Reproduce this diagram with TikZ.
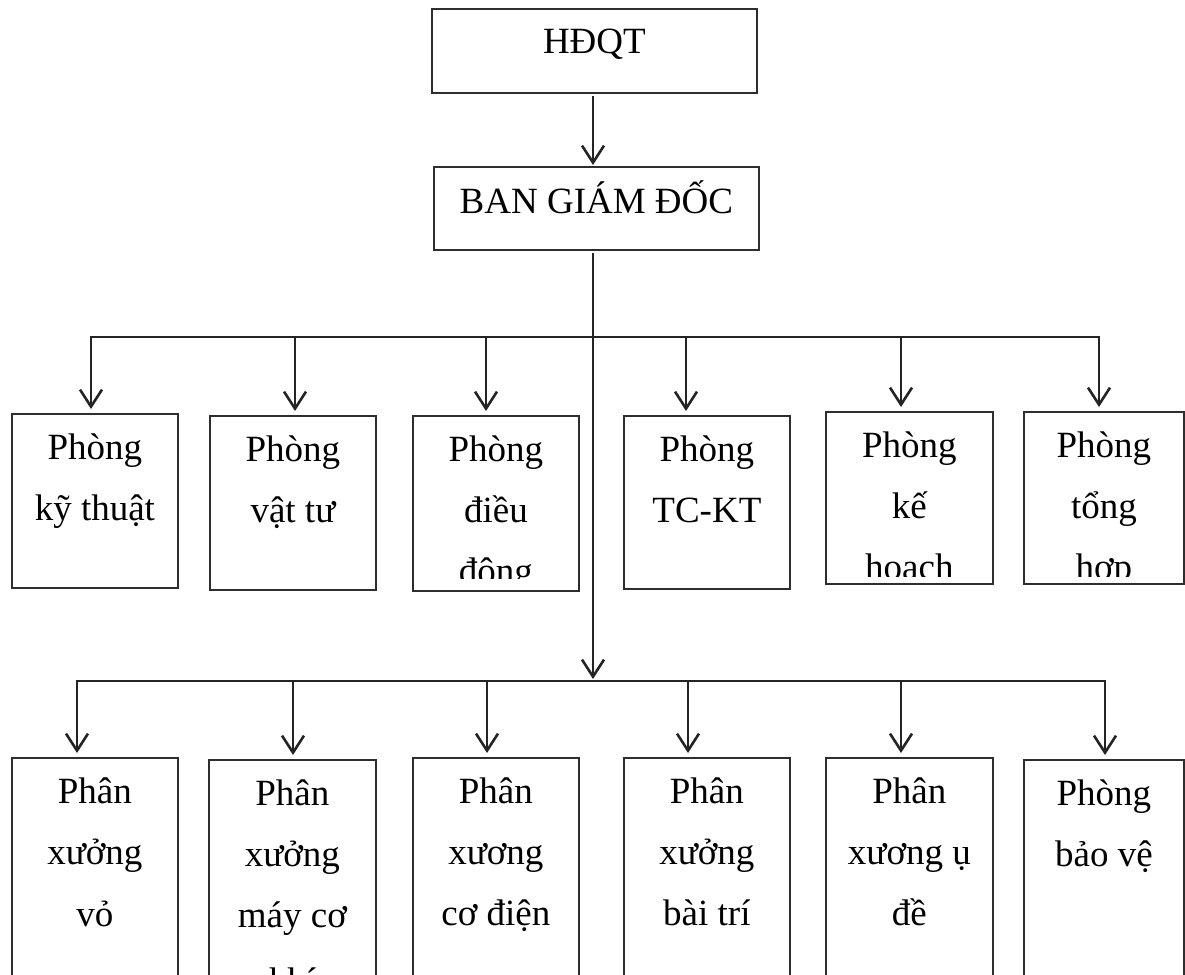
\documentclass[tikz,border=0pt]{standalone}
\usepackage{fontspec}
\setmainfont{Liberation Serif}
\usetikzlibrary{arrows.meta,calc}
\begin{document}
\begin{tikzpicture}[x=1pt,y=-1pt,
  box/.style={draw=black!82, line width=1.8pt, inner sep=0pt, anchor=north west, fill=none},
  txt/.style={font=\fontsize{37}{44}\selectfont, anchor=base, inner sep=0pt, text=black},
  conn/.style={draw=black!86, line width=2.6pt, line cap=rect},
  arr/.style={conn, -{Straight Barb[length=17pt,width=22pt]}, shorten >=4pt}
]
\useasboundingbox (0,0) rectangle (1185,974);
\clip (0,0) rectangle (1185,974);

% top boxes
\node[box, minimum width=325pt, minimum height=84pt] (hd) at (431,8) {};
\node[txt] (hdt) at ($(hd.north)+(0,46)$) {HĐQT};
\node[box, minimum width=325pt, minimum height=83pt] (ban) at (433,166) {};
\node[txt] (bant) at ($(ban.north)+(0,47)$) {BAN GIÁM ĐỐC};

% row 1 boxes
\node[box, minimum width=166pt, minimum height=174pt] (a1) at (11,413) {};
\node[box, minimum width=166pt, minimum height=174pt] (a2) at (209,415) {};
\node[box, minimum width=166pt, minimum height=175pt] (a3) at (412,415) {};
\node[box, minimum width=166pt, minimum height=173pt] (a4) at (623,415) {};
\node[box, minimum width=167pt, minimum height=172pt] (a5) at (825,411) {};
\node[box, minimum width=160pt, minimum height=172pt] (a6) at (1023,411) {};

\node[txt] (a1l1) at ($(a1.north)+(0,46)$) {Phòng};
\node[txt] (a1l2) at ($(a1.north)+(0,107)$) {kỹ thuật};
\node[txt] (a2l1) at ($(a2.north)+(0,46)$) {Phòng};
\node[txt] (a2l2) at ($(a2.north)+(0,107)$) {vật tư};
\begin{scope}
\clip (a3.north west) rectangle ($(a3.south east)+(0,-13)$);
\node[txt] (a3l1) at ($(a3.north)+(0,46)$) {Phòng};
\node[txt] (a3l2) at ($(a3.north)+(0,107)$) {điều};
\node[txt] (a3l3) at ($(a3.north)+(0,168)$) {động};
\end{scope}
\node[txt] (a4l1) at ($(a4.north)+(0,46)$) {Phòng};
\node[txt] (a4l2) at ($(a4.north)+(0,107)$) {TC-KT};
\begin{scope}
\clip (a5.north west) rectangle ($(a5.south east)+(0,-8)$);
\node[txt] (a5l1) at ($(a5.north)+(0,46)$) {Phòng};
\node[txt] (a5l2) at ($(a5.north)+(0,107)$) {kế};
\node[txt] (a5l3) at ($(a5.north)+(0,168)$) {hoạch};
\end{scope}
\begin{scope}
\clip (a6.north west) rectangle ($(a6.south east)+(0,-8)$);
\node[txt] (a6l1) at ($(a6.north)+(0,46)$) {Phòng};
\node[txt] (a6l2) at ($(a6.north)+(0,107)$) {tổng};
\node[txt] (a6l3) at ($(a6.north)+(0,168)$) {hợp};
\end{scope}

% row 2 boxes
\node[box, minimum width=166pt, minimum height=260pt] (b1) at (11,757) {};
\node[box, minimum width=167pt, minimum height=260pt] (b2) at (208,759) {};
\node[box, minimum width=166pt, minimum height=260pt] (b3) at (412,757) {};
\node[box, minimum width=166pt, minimum height=260pt] (b4) at (623,757) {};
\node[box, minimum width=167pt, minimum height=260pt] (b5) at (825,757) {};
\node[box, minimum width=160pt, minimum height=260pt] (b6) at (1023,759) {};

\node[txt] (b1l1) at ($(b1.north)+(0,46)$) {Phân};
\node[txt] (b1l2) at ($(b1.north)+(0,107)$) {xưởng};
\node[txt] (b1l3) at ($(b1.north)+(0,169)$) {vỏ};
\node[txt] (b2l1) at ($(b2.north)+(0,46)$) {Phân};
\node[txt] (b2l2) at ($(b2.north)+(0,107)$) {xưởng};
\node[txt] (b2l3) at ($(b2.north)+(0,168)$) {máy cơ};
\node[txt] (b2l4) at ($(b2.north)+(0,234)$) {khí};
\node[txt] (b3l1) at ($(b3.north)+(0,46)$) {Phân};
\node[txt] (b3l2) at ($(b3.north)+(0,107)$) {xương};
\node[txt] (b3l3) at ($(b3.north)+(0,168)$) {cơ điện};
\node[txt] (b4l1) at ($(b4.north)+(0,46)$) {Phân};
\node[txt] (b4l2) at ($(b4.north)+(0,107)$) {xưởng};
\node[txt] (b4l3) at ($(b4.north)+(0,168)$) {bài trí};
\node[txt] (b5l1) at ($(b5.north)+(0,46)$) {Phân};
\node[txt] (b5l2) at ($(b5.north)+(0,107)$) {xương ụ};
\node[txt] (b5l3) at ($(b5.north)+(0,168)$) {đề};
\node[txt] (b6l1) at ($(b6.north)+(0,46)$) {Phòng};
\node[txt] (b6l2) at ($(b6.north)+(0,107)$) {bảo vệ};

% connectors
\coordinate (m0) at (593,337);
\coordinate (m1) at (593,681);
\draw[arr, shorten <=3pt, shorten >=1pt] (hd.south -| m0) -- (ban.north -| m0);
\draw[arr, shorten <=3pt, shorten >=2pt] (ban.south -| m1) -- (m1);

% bus 1
\coordinate (u1) at (91,337);
\coordinate (u2) at (295,337);
\coordinate (u3) at (486,337);
\coordinate (u4) at (686,337);
\coordinate (u5) at (901,337);
\coordinate (u6) at (1099,337);
\draw[conn] (u1) -- (u6);
\foreach \i in {1,...,6} {
  \draw[arr] (u\i) -- (u\i |- a\i.north);
}

% bus 2
\coordinate (v1) at (77,681);
\coordinate (v2) at (293,681);
\coordinate (v3) at (487,681);
\coordinate (v4) at (688,681);
\coordinate (v5) at (901,681);
\coordinate (v6) at (1105,681);
\draw[conn] (v1) -- (v6);
\foreach \i in {1,...,6} {
  \draw[arr] (v\i) -- (v\i |- b\i.north);
}
\end{tikzpicture}
\end{document}
